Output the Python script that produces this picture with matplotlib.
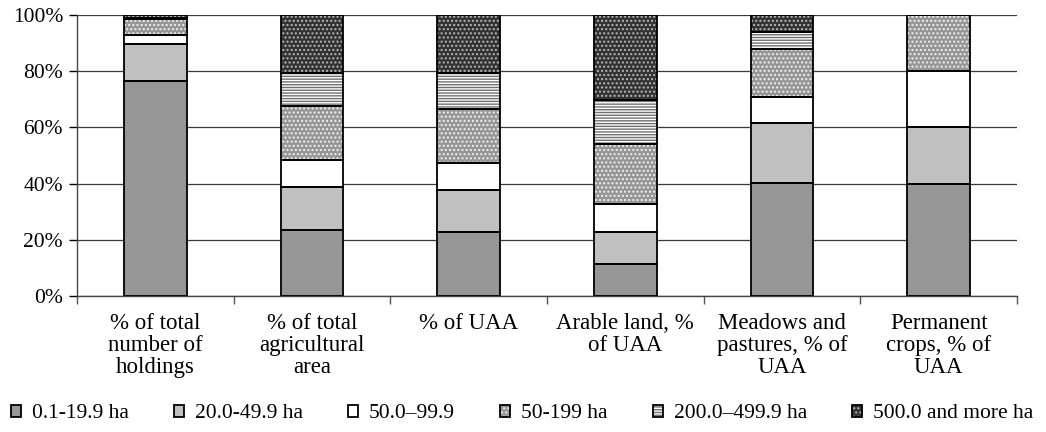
import numpy as np
import matplotlib
matplotlib.use("Agg")
import matplotlib.pyplot as plt
import matplotlib.ticker as mticker

# ── Data ───────────────────────────────────────────────────────────────────────

categories = [
    "% of total\nnumber of\nholdings",
    "% of total\nagricultural\narea",
    "% of UAA",
    "Arable land, %\nof UAA",
    "Meadows and\npastures, % of\nUAA",
    "Permanent\ncrops, % of\nUAA",
]

size_classes = [
    "0.1-19.9 ha",
    "20.0-49.9 ha",
    "50.0\u201399.9",
    "50-199 ha",
    "200.0\u2013499.9 ha",
    "500.0 and more ha",
]

share_0_20     = [76.6, 23.4, 22.7, 11.4, 40.3, 40.0]
share_20_50    = [13.1, 15.5, 15.0, 11.3, 21.4, 20.0]
share_50_100   = [3.3,  9.5,  9.5,  10.0, 9.2,  20.0]
share_50_199   = [5.5,  19.2, 19.5, 21.4, 17.0, 20.0]
share_200_500  = [0.5,  11.9, 12.6, 15.7, 6.2,  0.0]
share_500_more = [1.0,  20.5, 20.7, 30.2, 5.9,  0.0]

series = [share_0_20, share_20_50, share_50_100,
          share_50_199, share_200_500, share_500_more]

# ── Styles: (face colour, hatch, hatch colour) ────────────────────────────────
styles = [
    ("#969696", None,    None),
    ("#c0c0c0", None,    None),
    ("#ffffff", None,    None),
    ("#969696", "....",  "#f0f0f0"),
    ("#ffffff", "------", "#707070"),
    ("#333333", "....",  "#b8b8b8"),
]

plt.rcParams["font.family"] = ["Liberation Serif", "DejaVu Serif"]
plt.rcParams["hatch.linewidth"] = 1.0

fig = plt.figure(figsize=(10.46, 4.32), dpi=100)
ax = fig.add_axes([77 / 1046, 1 - 296 / 432, 940 / 1046, 281 / 432])

x = np.arange(len(categories))
width = 0.4
bottom = np.zeros(len(categories))
handles = []

for vals, (face, hatch, hcol), label in zip(series, styles, size_classes):
    vals = np.array(vals)
    # fill + hatch first, then a separate black outline on top
    fill = ax.bar(x, vals, width, bottom=bottom, color=face,
                  hatch=hatch, edgecolor=hcol if hcol else face,
                  linewidth=0, zorder=2)
    outline = ax.bar(x, vals, width, bottom=bottom, facecolor="none",
                     edgecolor="black", linewidth=1.3, zorder=3)
    handles.append((fill.patches[0], outline.patches[0]))
    bottom += vals

# ── Axes ───────────────────────────────────────────────────────────────────────
ax.set_xlim(-0.5, len(categories) - 0.5)
ax.set_ylim(0, 100)
ax.yaxis.set_major_locator(mticker.MultipleLocator(20))
ax.yaxis.set_major_formatter(mticker.FuncFormatter(lambda v, _: f"{int(v)}%"))
ax.yaxis.grid(True, color="#3a3a3a", linewidth=0.9, zorder=0)
ax.set_axisbelow(True)

ax.set_xticks(x)
ax.set_xticklabels(categories, linespacing=1.08)
ax.set_xticks(np.arange(-0.5, len(categories)), minor=True)
ax.tick_params(axis="x", which="major", length=0, pad=12, labelsize=16.5)
ax.tick_params(axis="x", which="minor", length=6, width=1.0, color="#555555")
ax.tick_params(axis="y", length=6, width=1.0, pad=4, labelsize=15.5)

for side in ("top", "right"):
    ax.spines[side].set_visible(False)
for side in ("left", "bottom"):
    ax.spines[side].set_linewidth(1.0)
    ax.spines[side].set_color("#444444")

# ── Legend ─────────────────────────────────────────────────────────────────────
fig.legend(handles, size_classes, loc="center left",
           bbox_to_anchor=(11 / 1046, 18 / 432), ncol=6, frameon=False,
           fontsize=15.5, handlelength=0.47, handleheight=0.47,
           handletextpad=0.5, columnspacing=2.1, borderpad=0,
           borderaxespad=0)

plt.savefig("out.png", dpi=100)
